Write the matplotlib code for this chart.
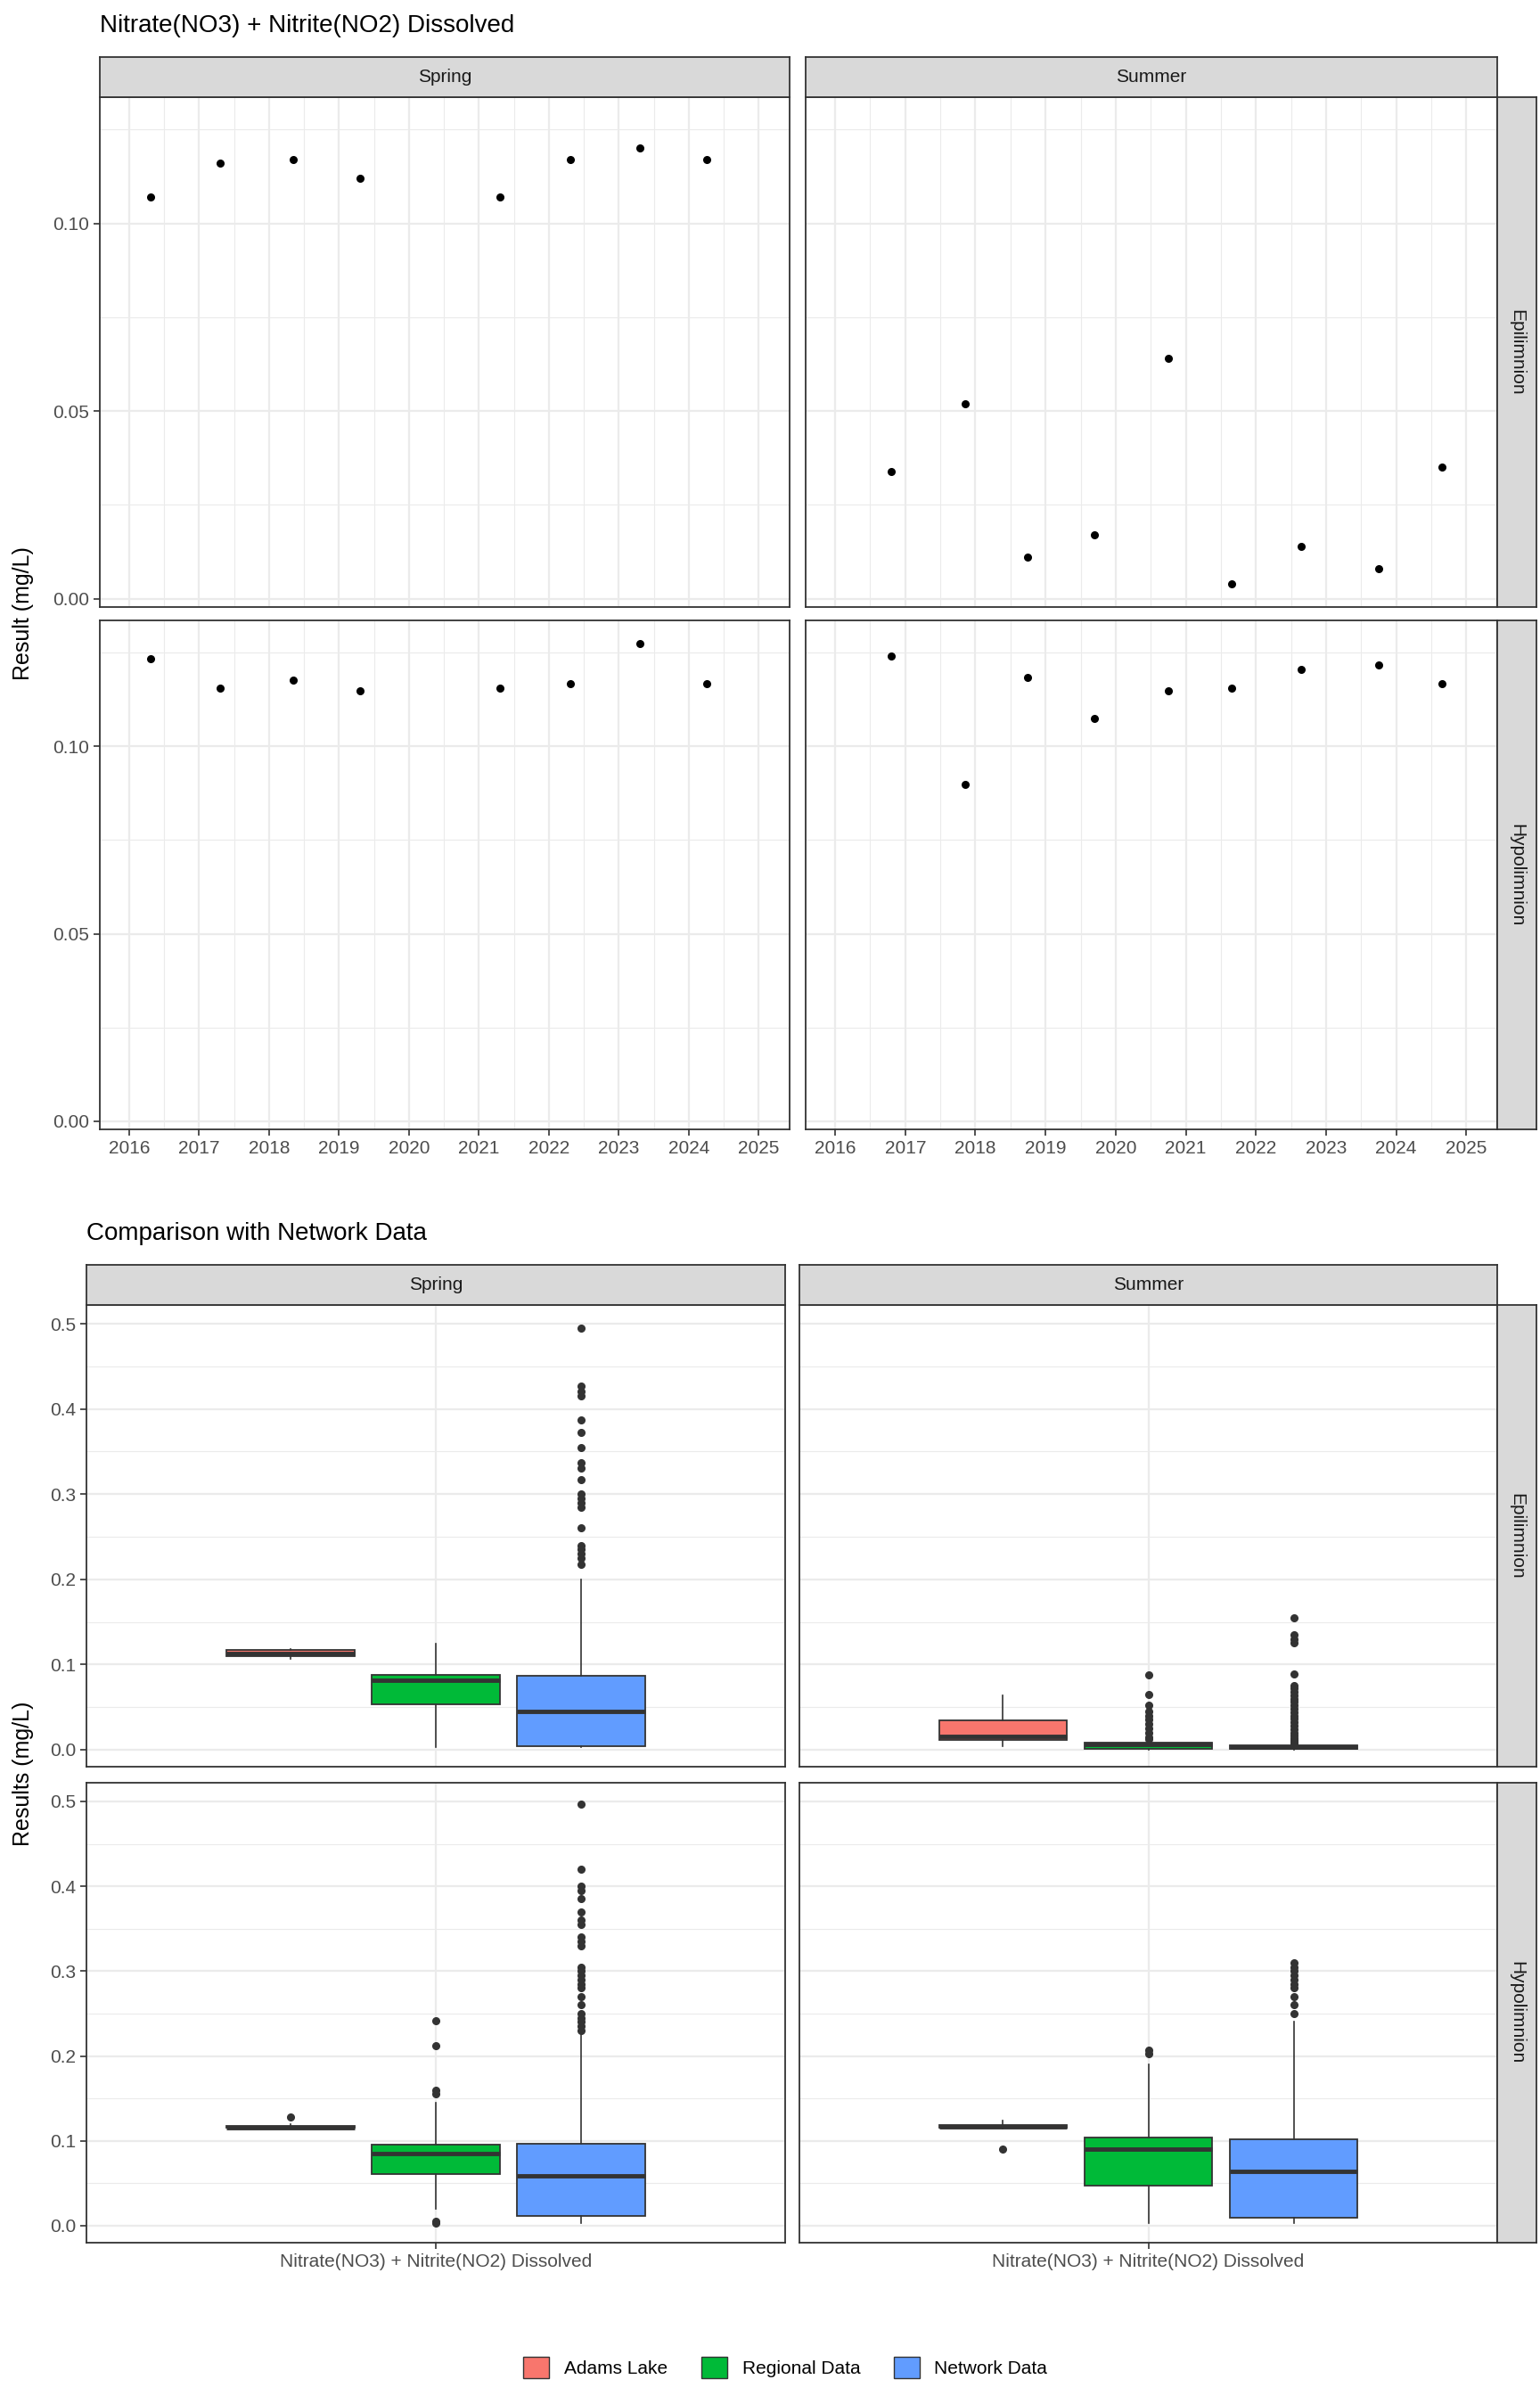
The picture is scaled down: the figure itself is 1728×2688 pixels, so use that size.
import matplotlib
matplotlib.use("Agg")
import matplotlib.pyplot as plt
from matplotlib.patches import Patch
from matplotlib.ticker import MultipleLocator

plt.rcParams["font.family"] = "Liberation Sans"

W, H = 1728, 2688

# ---- top chart data (decimal year, mg/L) ----
spring_x = [2016.3, 2017.3, 2018.35, 2019.3, 2021.3, 2022.3, 2023.3, 2024.25]
spring_epi = [0.107, 0.116, 0.117, 0.112, 0.107, 0.117, 0.120, 0.117]
spring_hypo = [0.1234, 0.1156, 0.1176, 0.1148, 0.1156, 0.1168, 0.1275, 0.1168]
summer_x = [2016.8, 2017.85, 2018.75, 2019.7, 2020.75, 2021.65, 2022.65, 2023.75, 2024.65]
summer_epi = [0.034, 0.052, 0.011, 0.017, 0.064, 0.004, 0.014, 0.008, 0.035]
summer_hypo = [0.1242, 0.0898, 0.1184, 0.1074, 0.1148, 0.1156, 0.1205, 0.1217, 0.1168]
years = list(range(2016, 2026))

# ---- bottom chart data: box stats (whislo, q1, med, q3, whishi, fliers) ----
groups = ["Adams Lake", "Regional Data", "Network Data"]
colors = ["#F8766D", "#00BA38", "#619CFF"]
param = "Nitrate(NO3) + Nitrite(NO2) Dissolved"

spring_epi_box = [
    (0.107, 0.110, 0.113, 0.117, 0.118, []),
    (0.003, 0.053, 0.082, 0.088, 0.124, []),
    (0.003, 0.004, 0.045, 0.087, 0.200,
     [0.495, 0.427, 0.420, 0.415, 0.387, 0.372, 0.355, 0.337, 0.330, 0.317, 0.300,
      0.295, 0.290, 0.285, 0.260, 0.240, 0.235, 0.230, 0.225, 0.218]),
]
summer_epi_box = [
    (0.004, 0.011, 0.016, 0.034, 0.064, []),
    (0.000, 0.001, 0.006, 0.008, 0.010,
     [0.088, 0.065, 0.052, 0.045, 0.040, 0.035, 0.030, 0.025, 0.020, 0.015, 0.012]),
    (0.000, 0.001, 0.003, 0.005, 0.006,
     [0.155, 0.135, 0.130, 0.125, 0.089, 0.075, 0.072, 0.068, 0.064, 0.060, 0.056,
      0.052, 0.048, 0.044, 0.040, 0.036, 0.032, 0.028, 0.024, 0.020, 0.017, 0.014,
      0.011, 0.009, 0.007]),
]
spring_hypo_box = [
    (0.114, 0.115, 0.116, 0.118, 0.120, [0.128]),
    (0.020, 0.061, 0.085, 0.096, 0.145, [0.242, 0.212, 0.160, 0.155, 0.005, 0.003]),
    (0.003, 0.011, 0.059, 0.097, 0.225,
     [0.497, 0.420, 0.400, 0.395, 0.385, 0.370, 0.360, 0.355, 0.340, 0.335, 0.330,
      0.305, 0.300, 0.295, 0.290, 0.285, 0.280, 0.270, 0.260, 0.250, 0.245, 0.240,
      0.235, 0.230]),
]
summer_hypo_box = [
    (0.114, 0.115, 0.117, 0.119, 0.124, [0.090]),
    (0.003, 0.047, 0.090, 0.104, 0.190, [0.207, 0.203]),
    (0.003, 0.009, 0.064, 0.102, 0.240,
     [0.310, 0.305, 0.300, 0.295, 0.290, 0.285, 0.280, 0.270, 0.260, 0.250]),
]

DARK = "#333333"
GRID = "#EBEBEB"
TICK = "#4D4D4D"

fig = plt.figure(figsize=(W / 100, H / 100), dpi=100)


def px(l, t, r, b):
    return fig.add_axes([l / W, 1 - b / H, (r - l) / W, (b - t) / H])


def style(ax):
    ax.set_facecolor("white")
    for s in ax.spines.values():
        s.set_color(DARK)
        s.set_linewidth(1.3)
    ax.tick_params(colors=DARK, labelcolor=TICK, labelsize=15, length=5, width=1.2)
    ax.tick_params(which="minor", length=0)
    ax.grid(True, which="major", color=GRID, lw=1.6, zorder=0)
    ax.grid(True, which="minor", color=GRID, lw=0.8, zorder=0)
    ax.set_axisbelow(True)


def strip(box, text, rot=0):
    s = px(*box)
    s.set_facecolor("#D9D9D9")
    s.set_xticks([])
    s.set_yticks([])
    for sp in s.spines.values():
        sp.set_color(DARK)
        sp.set_linewidth(1.3)
    s.text(0.5, 0.5, text, rotation=rot, ha="center", va="center",
           fontsize=15, color="#1A1A1A", transform=s.transAxes)


# ---------------- top chart ----------------
cols = [(112, 886), (904, 1680)]
rows = [(109, 681), (696, 1267)]
series = [[(spring_x, spring_epi), (summer_x, summer_epi)],
          [(spring_x, spring_hypo), (summer_x, summer_hypo)]]
for i, (t, b) in enumerate(rows):
    for j, (l, r) in enumerate(cols):
        ax = px(l, t, r, b)
        style(ax)
        xs, ys = series[i][j]
        ax.scatter(xs, ys, s=30, color="black", zorder=3)
        ax.set_xlim(2015.58, 2025.44)
        ax.set_ylim(-0.0022, 0.1336)
        ax.set_xticks(years)
        ax.xaxis.set_minor_locator(MultipleLocator(0.5))
        ax.set_yticks([0.0, 0.05, 0.10])
        ax.yaxis.set_minor_locator(MultipleLocator(0.025))
        if i == 1:
            ax.set_xticklabels([str(y) for y in years])
        else:
            ax.tick_params(axis="x", length=0, labelbottom=False)
        if j == 0:
            ax.set_yticklabels(["0.00", "0.05", "0.10"])
        else:
            ax.tick_params(axis="y", length=0, labelleft=False)
for (l, r), name in zip(cols, ["Spring", "Summer"]):
    strip((l, 64, r, 109), name)
for (t, b), name in zip(rows, ["Epilimnion", "Hypolimnion"]):
    strip((1680, t, 1724, b), name, rot=-90)
fig.text(112 / W, 1 - 29 / H, "Nitrate(NO3) + Nitrite(NO2) Dissolved",
         fontsize=20, va="center", ha="left")
fig.text(26 / W, 1 - 688 / H, "Result (mg/L)", fontsize=18, rotation=90,
         va="center", ha="center")

# ---------------- bottom chart ----------------
cols = [(97, 881), (897, 1680)]
rows = [(1464, 1982), (2000, 2516)]
boxes = [[spring_epi_box, summer_epi_box], [spring_hypo_box, summer_hypo_box]]
positions = [0.75, 1.0, 1.25]
for i, (t, b) in enumerate(rows):
    for j, (l, r) in enumerate(cols):
        ax = px(l, t, r, b)
        style(ax)
        stats = [dict(whislo=s[0], q1=s[1], med=s[2], q3=s[3], whishi=s[4], fliers=s[5])
                 for s in boxes[i][j]]
        bp = ax.bxp(stats, positions=positions, widths=0.22, patch_artist=True,
                    showcaps=False,
                    boxprops=dict(edgecolor=DARK, linewidth=1.3),
                    whiskerprops=dict(color=DARK, linewidth=1.2),
                    medianprops=dict(color=DARK, linewidth=3.5),
                    flierprops=dict(marker="o", markerfacecolor=DARK,
                                    markeredgecolor=DARK, markersize=5.5))
        for patch, c in zip(bp["boxes"], colors):
            patch.set_facecolor(c)
            patch.set_zorder(2)
        ax.set_xlim(0.4, 1.6)
        ax.set_ylim(-0.02, 0.522)
        ax.set_yticks([0.0, 0.1, 0.2, 0.3, 0.4, 0.5])
        ax.yaxis.set_minor_locator(MultipleLocator(0.05))
        ax.set_xticks([1.0])
        if i == 1:
            ax.set_xticklabels([param])
        else:
            ax.tick_params(axis="x", length=0, labelbottom=False)
        if j == 0:
            ax.set_yticklabels(["0.0", "0.1", "0.2", "0.3", "0.4", "0.5"])
        else:
            ax.tick_params(axis="y", length=0, labelleft=False)
for (l, r), name in zip(cols, ["Spring", "Summer"]):
    strip((l, 1419, r, 1464), name)
for (t, b), name in zip(rows, ["Epilimnion", "Hypolimnion"]):
    strip((1680, t, 1724, b), name, rot=-90)
fig.text(97 / W, 1 - 1384 / H, "Comparison with Network Data",
         fontsize=20, va="center", ha="left")
fig.text(26 / W, 1 - 1990 / H, "Results (mg/L)", fontsize=18, rotation=90,
         va="center", ha="center")

handles = [Patch(facecolor=c, edgecolor=DARK, label=g) for g, c in zip(groups, colors)]
fig.legend(handles=handles, loc="center", bbox_to_anchor=(0.51, 1 - 2656 / H),
           ncol=3, frameon=False, fontsize=15, handlelength=1.4, handleheight=1.4,
           columnspacing=1.8)

fig.savefig("out.png", dpi=100)
